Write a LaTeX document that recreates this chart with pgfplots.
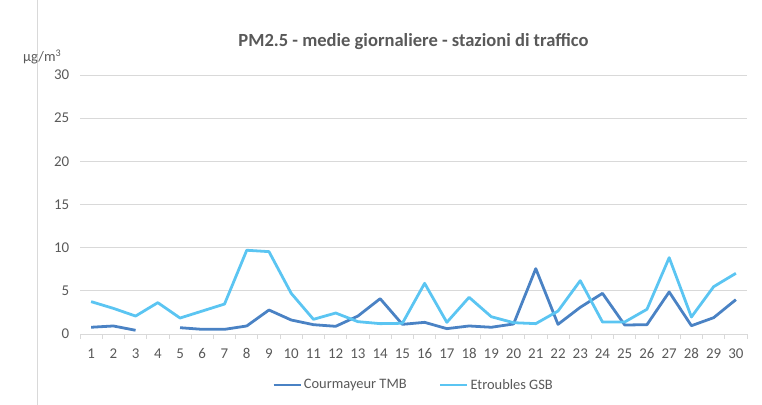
\documentclass[border=0pt]{standalone}
\usepackage{fontspec}
\setmainfont{Carlito}
\usepackage{pgfplots}
\pgfplotsset{compat=1.18}
\definecolor{darkb}{RGB}{74,130,196}
\definecolor{lightb}{RGB}{91,197,242}
\definecolor{txt}{RGB}{89,89,89}
\definecolor{gridc}{RGB}{217,217,217}
\begin{document}
\begin{tikzpicture}
\useasboundingbox (0,0) rectangle (762bp,405bp);
\draw[gridc, line width=0.8pt] (37bp,0) -- (37bp,405bp);
\begin{axis}[
  at={(80bp,71bp)}, anchor=south west,
  scale only axis, width=667bp, height=259bp,
  xmin=0.5, xmax=30.5, ymin=0, ymax=30,
  unbounded coords=jump,
  axis line style={draw=none},
  xtick pos=bottom, ytick pos=left,
  xtick={1,...,30},
  minor xtick={0.5,1.5,...,30.5},
  major x tick style={draw=none},
  minor x tick style={gridc, line width=0.8pt},
  minor tick length=5bp,
  tick align=outside,
  ytick={0,5,...,30},
  ymajorgrids,
  major y grid style={gridc, line width=0.8pt},
  major y tick style={draw=none},
  tick label style={font=\fontsize{15}{17}\selectfont, text=txt},
  /pgf/number format/assume math mode=true,
  xticklabel style={yshift=-7bp},
  yticklabel style={xshift=-3bp},
  legend style={at={(0.5,-0.197)}, anchor=center, draw=none, fill=none,
    font=\fontsize{14.5}{16}\selectfont, text=txt, legend columns=2,
    /tikz/every even column/.append style={column sep=30bp},
    /tikz/every odd column/.append style={column sep=0bp}},
  legend image code/.code={\draw[#1, line width=2.8pt] (0bp,0bp) -- (27bp,0bp);},
  title={\bfseries\fontsize{18.6}{20}\selectfont PM2.5 - medie giornaliere - stazioni di traffico},
  title style={text=txt, at={(0.5,1)}, anchor=south, yshift=16bp},
  clip=false,
]
\addplot[darkb, line width=2.8pt, line join=round] coordinates {
(1,0.78) (2,0.93) (3,0.43) (4,nan) (5,0.73) (6,0.54) (7,0.54) (8,0.93) (9,2.78) (10,1.62)
(11,1.08) (12,0.89) (13,2.08) (14,4.09) (15,1.12) (16,1.35) (17,0.62) (18,0.93) (19,0.78) (20,1.16)
(21,7.57) (22,1.12) (23,3.09) (24,4.71) (25,1.04) (26,1.08) (27,4.87) (28,0.96) (29,1.89) (30,3.98)
};
\addlegendentry{Courmayeur TMB}
\addplot[lightb, line width=2.8pt, line join=round] coordinates {
(1,3.75) (2,2.97) (3,2.08) (4,3.63) (5,1.85) (6,2.66) (7,3.47) (8,9.70) (9,9.54) (10,4.71)
(11,1.70) (12,2.43) (13,1.43) (14,1.20) (15,1.24) (16,5.87) (17,1.35) (18,4.25) (19,2.00) (20,1.31)
(21,1.20) (22,2.66) (23,6.18) (24,1.39) (25,1.39) (26,2.86) (27,8.84) (28,1.97) (29,5.48) (30,7.03)
};
\addlegendentry{Etroubles GSB}
\end{axis}
\node[anchor=base west, text=txt, font=\fontsize{14.5}{16}\selectfont, inner sep=0pt] at (23bp,343bp) {µg/m\textsuperscript{3}};
\end{tikzpicture}
\end{document}
